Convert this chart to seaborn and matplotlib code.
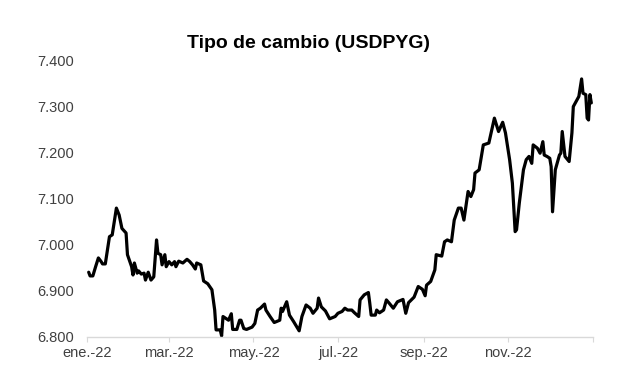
import matplotlib
matplotlib.use("Agg")
import matplotlib.pyplot as plt
import matplotlib.ticker as mticker
import pandas as pd
import seaborn as sns

# ---- data ----
dates = [
    "2022-01-02", "2022-01-03", "2022-01-05", "2022-01-07", "2022-01-09", "2022-01-11",
    "2022-01-12", "2022-01-14", "2022-01-17", "2022-01-19", "2022-01-22", "2022-01-24",
    "2022-01-26", "2022-01-29", "2022-01-30", "2022-02-02", "2022-02-03", "2022-02-04",
    "2022-02-06", "2022-02-07", "2022-02-09", "2022-02-11", "2022-02-12", "2022-02-14",
    "2022-02-16", "2022-02-18", "2022-02-20", "2022-02-21", "2022-02-23", "2022-02-24",
    "2022-02-26", "2022-02-27", "2022-03-01", "2022-03-03", "2022-03-05", "2022-03-06",
    "2022-03-08", "2022-03-11", "2022-03-14", "2022-03-16", "2022-03-18", "2022-03-20",
    "2022-03-21", "2022-03-24", "2022-03-26", "2022-03-29", "2022-04-01", "2022-04-03",
    "2022-04-04", "2022-04-06", "2022-04-07", "2022-04-08", "2022-04-09", "2022-04-11",
    "2022-04-13", "2022-04-15", "2022-04-16", "2022-04-19", "2022-04-21", "2022-04-22",
    "2022-04-24", "2022-04-26", "2022-04-30", "2022-05-02", "2022-05-04", "2022-05-06",
    "2022-05-09", "2022-05-10", "2022-05-13", "2022-05-16", "2022-05-20", "2022-05-21",
    "2022-05-22", "2022-05-25", "2022-05-27", "2022-05-30", "2022-06-02", "2022-06-03",
    "2022-06-05", "2022-06-08", "2022-06-11", "2022-06-13", "2022-06-16", "2022-06-17",
    "2022-06-19", "2022-06-22", "2022-06-25", "2022-06-29", "2022-07-01", "2022-07-04",
    "2022-07-06", "2022-07-08", "2022-07-11", "2022-07-13", "2022-07-16", "2022-07-17",
    "2022-07-20", "2022-07-23", "2022-07-24", "2022-07-25", "2022-07-28", "2022-07-29",
    "2022-07-31", "2022-08-03", "2022-08-05", "2022-08-07", "2022-08-10", "2022-08-13",
    "2022-08-17", "2022-08-19", "2022-08-21", "2022-08-25", "2022-08-28", "2022-08-31",
    "2022-09-02", "2022-09-03", "2022-09-06", "2022-09-09", "2022-09-10", "2022-09-14",
    "2022-09-16", "2022-09-18", "2022-09-21", "2022-09-23", "2022-09-26", "2022-09-28",
    "2022-09-30", "2022-10-03", "2022-10-05", "2022-10-07", "2022-10-08", "2022-10-11",
    "2022-10-14", "2022-10-18", "2022-10-22", "2022-10-25", "2022-10-28", "2022-10-30",
    "2022-11-02", "2022-11-04", "2022-11-06", "2022-11-07", "2022-11-09", "2022-11-12",
    "2022-11-14", "2022-11-16", "2022-11-18", "2022-11-19", "2022-11-22", "2022-11-24",
    "2022-11-26", "2022-11-27", "2022-11-29", "2022-12-01", "2022-12-02", "2022-12-03",
    "2022-12-05", "2022-12-08", "2022-12-09", "2022-12-10", "2022-12-12", "2022-12-15",
    "2022-12-17", "2022-12-18", "2022-12-20", "2022-12-22", "2022-12-24", "2022-12-25",
    "2022-12-27", "2022-12-28", "2022-12-29", "2022-12-30", "2022-12-31",
]

usdpyg = [
    6940, 6932, 6932, 6952, 6971, 6963,
    6958, 6958, 7017, 7021, 7079, 7064,
    7035, 7025, 6978, 6952, 6934, 6960,
    6938, 6943, 6936, 6938, 6923, 6940,
    6923, 6930, 7010, 6981, 6978, 6956,
    6978, 6952, 6963, 6956, 6963, 6952,
    6964, 6960, 6968, 6963, 6956, 6947,
    6960, 6956, 6921, 6915, 6902, 6858,
    6815, 6815, 6815, 6802, 6844, 6840,
    6836, 6850, 6816, 6816, 6836, 6836,
    6818, 6816, 6821, 6829, 6858, 6862,
    6871, 6858, 6844, 6831, 6836, 6862,
    6855, 6876, 6847, 6833, 6818, 6813,
    6844, 6869, 6862, 6851, 6862, 6884,
    6865, 6856, 6839, 6844, 6851, 6855,
    6862, 6858, 6858, 6852, 6844, 6880,
    6891, 6896, 6873, 6847, 6847, 6858,
    6852, 6858, 6880, 6873, 6862, 6876,
    6881, 6851, 6874, 6886, 6909, 6903,
    6889, 6912, 6920, 6945, 6978, 6975,
    7006, 7010, 7006, 7053, 7079, 7079,
    7053, 7115, 7104, 7119, 7155, 7162,
    7216, 7220, 7274, 7245, 7265, 7242,
    7184, 7133, 7028, 7032, 7090, 7162,
    7184, 7191, 7176, 7216, 7209, 7198,
    7223, 7194, 7191, 7187, 7169, 7071,
    7162, 7194, 7198, 7245, 7191, 7180,
    7242, 7299, 7310, 7321, 7359, 7328,
    7325, 7274, 7270, 7325, 7307,
]

tick_dates = ["2022-01-01", "2022-03-01", "2022-05-01", "2022-07-01",
              "2022-09-01", "2022-11-01", "2023-01-01"]
tick_labels = ["ene.-22", "mar.-22", "may.-22", "jul.-22", "sep.-22", "nov.-22", ""]
y_ticks = [6800, 6900, 7000, 7100, 7200, 7300, 7400]
title = "Tipo de cambio (USDPYG)"

df = pd.DataFrame({"fecha": pd.to_datetime(dates), "tc": usdpyg})

sns.set_theme(style="white")
plt.rcParams["font.family"] = ["Liberation Sans", "DejaVu Sans"]

fig = plt.figure(figsize=(6.17, 3.82), dpi=100)
ax = fig.add_axes([0.1415, 0.1183, 0.8191, 0.7246])

sns.lineplot(data=df, x="fecha", y="tc", color="black", linewidth=2.3, ax=ax)
for ln in ax.lines:
    ln.set_clip_on(False)
    ln.set_solid_joinstyle("round")

ax.set_xlim(pd.Timestamp("2022-01-01"), pd.Timestamp("2023-01-01"))
ax.set_ylim(6800, 7400)
ax.set_xticks(pd.to_datetime(tick_dates))
ax.set_xticklabels(tick_labels)
ax.set_yticks(y_ticks)
ax.yaxis.set_major_formatter(
    mticker.FuncFormatter(lambda v, p: f"{v:,.0f}".replace(",", ".")))

ax.set_xlabel("")
ax.set_ylabel("")
for s in ["top", "right", "left"]:
    ax.spines[s].set_visible(False)
ax.spines["bottom"].set_color("#d9d9d9")
ax.spines["bottom"].set_linewidth(1.0)
ax.grid(False)

ax.tick_params(axis="x", which="major", bottom=True, direction="out", length=3.5,
               width=0.8, color="#d9d9d9", labelsize=10.5, labelcolor="#404040", pad=3)
ax.tick_params(axis="y", left=False, length=0, labelsize=10.5, labelcolor="#404040", pad=9.5)

fig.text(0.5, 1 - 48 / 382, title, ha="center", va="baseline", fontsize=14,
         fontweight="bold", color="black")

fig.savefig("out.png", dpi=100, facecolor="white")
